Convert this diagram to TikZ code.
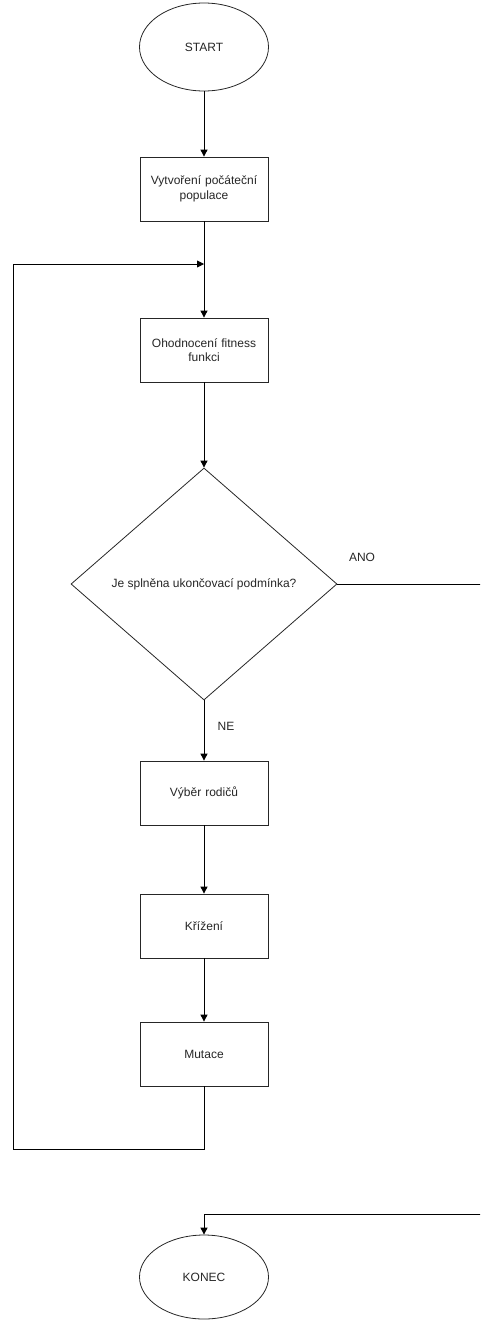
\documentclass[tikz,border=0pt]{standalone}
\usepackage{fontspec}
\setmainfont{Liberation Sans}
\usetikzlibrary{shapes.geometric,arrows.meta}
\begin{document}
\begin{tikzpicture}[x=1pt,y=-1pt,
  every node/.style={font=\fontsize{12}{14.5}\selectfont, text=black!85},
  term/.style={ellipse, draw=black!85, line width=0.8pt, minimum width=129pt, minimum height=88pt, inner sep=0pt},
  procbox/.style={rectangle, draw=black!85, line width=0.8pt, minimum width=128pt, minimum height=64pt, align=center, text width=124pt, inner sep=0pt},
  decision/.style={diamond, draw=black!85, line width=0.8pt, minimum width=266pt, minimum height=232pt, inner sep=0pt, aspect=1.15},
  conn/.style={draw=black, line width=0.9pt},
  arr/.style={conn, -{Triangle[length=7pt,width=7pt]}},
  lbl/.style={inner sep=0pt}
]
\useasboundingbox (0,0) rectangle (480,1320);
\clip (0,0) rectangle (480,1320);
\node[term] (start) at (204,47) {START};
\node[procbox] (init) at (204,189) {Vytvoření počáteční\\populace};
\node[procbox] (eval) at (204,350) {Ohodnocení fitness\\funkci};
\node[decision] (cond) at (204,584) {Je splněna ukončovací podmínka?};
\node[procbox] (sel) at (204,793) {Výběr rodičů};
\node[procbox] (cross) at (204,926) {Křížení};
\node[procbox] (mut) at (204,1054) {Mutace};
\node[term, minimum height=84pt] (end) at (204,1277) {KONEC};
\node[lbl] (ano) at (362,557) {ANO};
\node[lbl] (ne) at (226,726) {NE};
\coordinate (loopin) at (204,264);
\coordinate (loopbl) at (13,1149);
\coordinate (loopbr) at (204,1149);
\coordinate (looptl) at (13,264);
\coordinate (yesr) at (490,584);
\coordinate (yesb) at (490,1214);
\coordinate (endtop) at (204,1214);
\draw[arr] (start) -- (init);
\draw[arr] (init) -- (eval);
\draw[arr] (eval) -- (cond);
\draw[arr] (cond) -- (sel);
\draw[arr] (sel) -- (cross);
\draw[arr] (cross) -- (mut);
\draw[conn] (mut.south) -- (loopbr) -- (loopbl) -- (looptl);
\draw[arr] (looptl) -- (loopin);
\draw[conn] (cond.east) -- (yesr) -- (yesb) -- (endtop);
\draw[arr] (endtop) -- (end.north);
\end{tikzpicture}
\end{document}
